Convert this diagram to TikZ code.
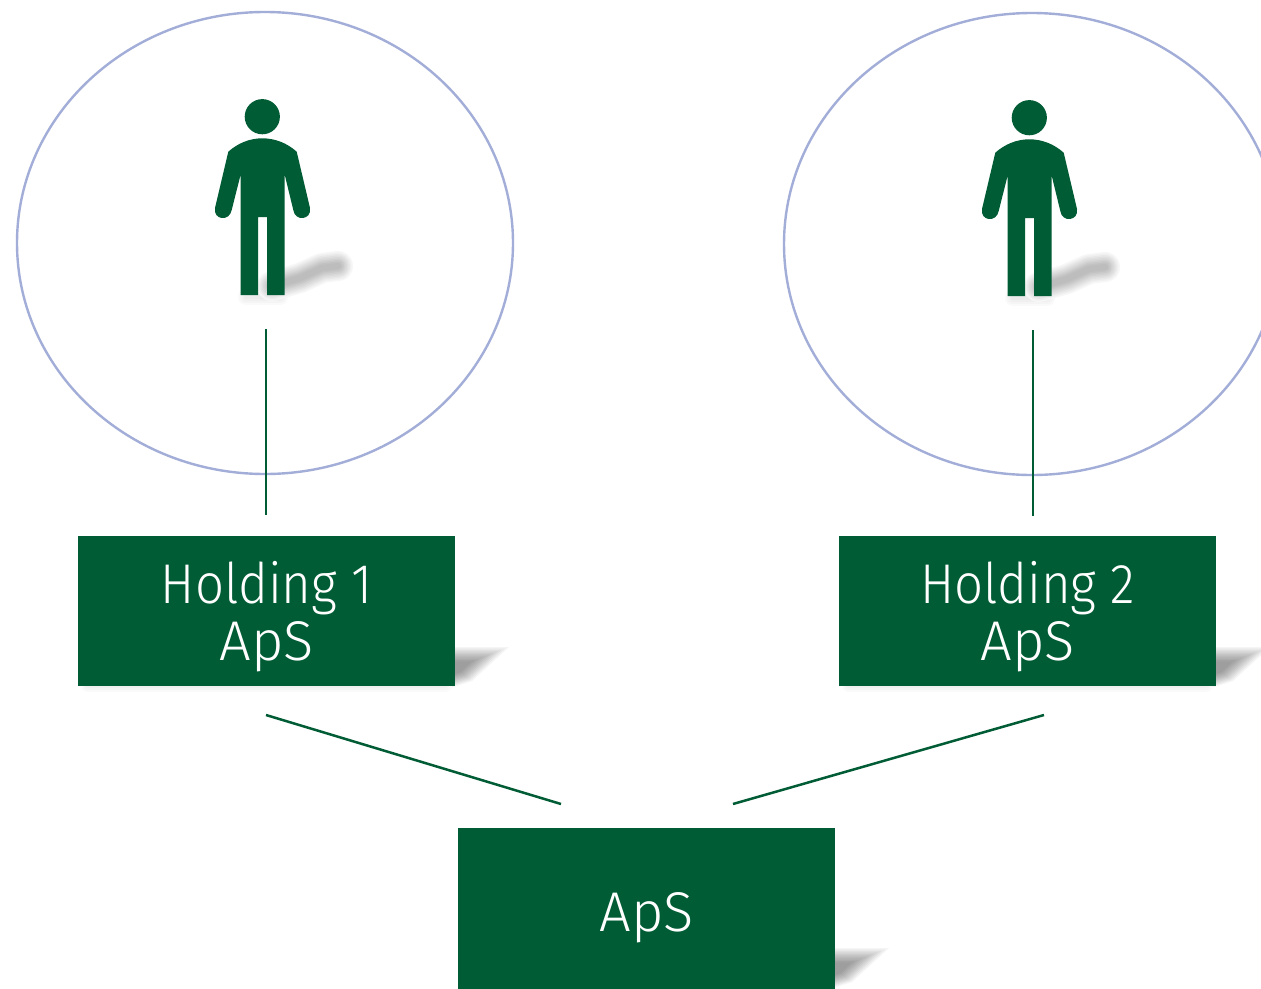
\documentclass[tikz,border=0pt]{standalone}
\usepackage{fontspec}
\setmainfont{Fira Sans Light}
\newfontfamily\holdfont[FakeStretch=0.91]{Fira Sans Light}
\definecolor{dkgreen}{HTML}{005C35}
\definecolor{ringblue}{HTML}{A3AED8}
% soft band: stroke a polyline several times, wide and pale first, narrow and dark last
\newcommand{\softband}[2]{%
  \foreach \w/\k in {#2}{
    \draw[draw=black!\k!white,line width=\w pt,line join=round,line cap=round] #1;
  }}
\newcommand{\personshape}[2]{%
  \begin{scope}[shift={(#1,#2)}]
    \softband{(246,297) -- (280,297)}{16/2,12/4,8/6,4/8}
    \softband{(272,286) -- (300,278) -- (322,268) -- (338,266)}{30/3,27/6,24/9,21/12,18/15,15/18,12/21,9/24,6/26}
    \fill[dkgreen] (262.3,116.7) circle[radius=17.6];
    \fill[dkgreen] (228.3,151.7) .. controls (238,143) and (250,138.3) .. (262.3,138.3)
      .. controls (275,138.3) and (287,143) .. (296.7,151.7)
      -- (310,208) .. controls (312,220) and (295,222) .. (293.3,210)
      -- (284.6,174.3) -- (284.6,295) -- (267,295) -- (267,217) -- (258,217) -- (258,295)
      -- (240.7,295) -- (240.7,174.3) -- (231.7,210)
      .. controls (229.5,222) and (213,220) .. (215,208) -- cycle;
  \end{scope}}
\newcommand{\boxshadow}[2]{%
  \begin{scope}[shift={(#1,#2)}]
    \foreach \s/\k in {1/4,.93/8,.86/12,.79/16,.72/20,.65/24,.58/27,.51/30,.44/33,.37/36,.3/38}{
      \fill[black!\k!white,line join=round,cm={\s,0,0,\s,(0,20)}]
        (-8,-21) -- (54,-21) -- (17,13) -- (-8,21) -- cycle;
    }
  \end{scope}}
\tikzset{
  ring/.style={draw=ringblue,line width=2.4pt},
  link/.style={draw=dkgreen,line width=2.5pt},
  greenbox/.style={fill=dkgreen,minimum width=377pt,inner sep=0pt,anchor=north west},
  boxtext/.style={text=white,inner sep=0pt,align=center,yshift=-5pt,
    font=\fontsize{56}{57}\selectfont},
}
\begin{document}
\begin{tikzpicture}[x=1pt,y=-1pt]
  \useasboundingbox (0,0) rectangle (1261,988);
  \clip (0,0) rectangle (1261,988);
  \fill[white] (0,0) rectangle (1261,988);
  \draw[ring] (265,243) ellipse[x radius=248,y radius=231];
  \draw[ring] (1032,244) ellipse[x radius=248,y radius=231];
  \personshape{0}{0}
  \personshape{767}{1}
  \boxshadow{455}{648}
  \boxshadow{1216}{648}
  \boxshadow{835}{949}
  \softband{(88,685) -- (445,685)}{14/2,10/4,6/6}
  \softband{(849,685) -- (1206,685)}{14/2,10/4,6/6}
  \node[greenbox,minimum height=150pt] (h1) at (78,536) {};
  \node[greenbox,minimum height=150pt] (h2) at (839,536) {};
  \node[greenbox,minimum height=170pt] (aps) at (458,828) {};
  \node[boxtext] (t1) at (h1.center) {{\holdfont Holding 1}\\ApS};
  \node[boxtext] (t2) at (h2.center) {{\holdfont Holding 2}\\ApS};
  \node[boxtext] (t3) at (aps.center) {ApS};
  \coordinate (p1) at (266,329);
  \coordinate (p1b) at (266,515);
  \coordinate (p2) at (1033,330);
  \coordinate (p2b) at (1033,516);
  \coordinate (h1o) at (266,715);
  \coordinate (a1) at (561,804);
  \coordinate (h2o) at (1044,715);
  \coordinate (a2) at (733,804);
  \draw[link] (p1) -- (p1b);
  \draw[link] (p2) -- (p2b);
  \draw[link] (h1o) -- (a1);
  \draw[link] (h2o) -- (a2);
\end{tikzpicture}
\end{document}
